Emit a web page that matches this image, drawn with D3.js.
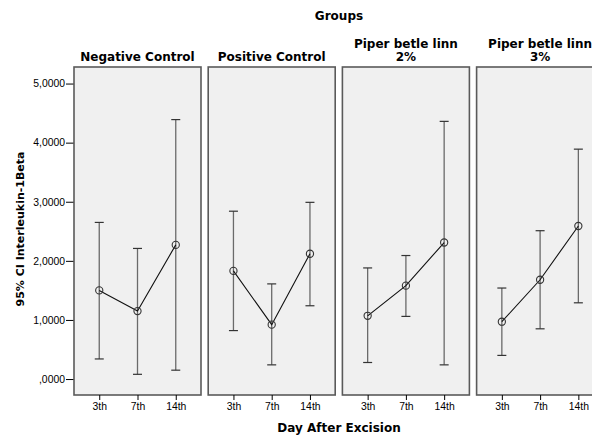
<!DOCTYPE html>
<html>
<head>
<meta charset="utf-8">
<script src="https://cdn.jsdelivr.net/npm/d3@7"></script>
<style>
body { margin:0; background:#fff; }
svg { display:block; font-family:"DejaVu Sans", sans-serif; }
.title { font-weight:bold; font-size:12px; fill:#000; }
.tick text { font-family:"Liberation Sans", Arial, sans-serif; font-size:10.4px; fill:#000; }
</style>
</head>
<body>
<svg></svg>
<script>
// groups (panel titles, split on lines)
var groups = [["Negative Control"], ["Positive Control"], ["Piper betle linn","2%"], ["Piper betle linn","3%"]];
var days = ["3th","7th","14th"];
// mean values per group, per day
var means = [
  [1.50, 1.15, 2.27],
  [1.83, 0.92, 2.12],
  [1.07, 1.58, 2.31],
  [0.97, 1.68, 2.59]
];
// 95% CI lower bounds
var lowers = [
  [0.34, 0.08, 0.15],
  [0.82, 0.24, 1.24],
  [0.28, 1.06, 0.24],
  [0.40, 0.85, 1.29]
];
// 95% CI upper bounds
var uppers = [
  [2.65, 2.21, 4.39],
  [2.84, 1.61, 2.99],
  [1.88, 2.09, 4.36],
  [1.54, 2.51, 3.89]
];
var yTicks = [0, 1, 2, 3, 4, 5];

var initGraph = function()
{
    var screen = {width:592, height:436};
    var margins = {left:74, top:67, bottom:41};
    var panel = {width:127, height:screen.height - margins.top - margins.bottom, gap:7.2};

    var svg = d3.select("svg")
        .attr("width", screen.width)
        .attr("height", screen.height);

    var yScale = d3.scaleLinear()
        .domain([-0.27, 5.28])
        .range([panel.height, 0]);

    var xScale = d3.scalePoint()
        .domain(days)
        .range([0, panel.width])
        .padding(0.66);

    var fmt = function(d) { return d === 0 ? ",0000" : d3.format(".4f")(d).replace(".", ","); };

    // y axis
    var yAxis = d3.axisLeft(yScale).tickValues(yTicks).tickFormat(fmt).tickSize(8).tickPadding(1);
    var ya = svg.append("g")
        .attr("transform", "translate(" + margins.left + "," + margins.top + ")")
        .call(yAxis);
    ya.select(".domain").remove();
    ya.selectAll(".tick line").attr("stroke", "#000");

    groups.forEach(function(title, gi)
    {
        var x0 = margins.left + gi * (panel.width + panel.gap);
        var g = svg.append("g")
            .attr("transform", "translate(" + x0 + "," + margins.top + ")");

        g.append("rect")
            .attr("x", 0).attr("y", 0)
            .attr("width", panel.width).attr("height", panel.height)
            .attr("fill", "#f0f0f0")
            .attr("stroke", "#5a5a5a")
            .attr("stroke-width", 1.6);

        // panel title
        var t = g.append("text")
            .classed("title", true)
            .attr("text-anchor", "middle")
            .attr("x", panel.width / 2);
        title.forEach(function(line, li)
        {
            t.append("tspan")
                .attr("x", panel.width / 2)
                .attr("y", title.length == 1 ? -6 : -19 + li * 13)
                .text(line);
        });

        // x axis
        var xa = g.append("g")
            .attr("transform", "translate(0," + panel.height + ")")
            .call(d3.axisBottom(xScale).tickSize(5).tickPadding(3));
        xa.select(".domain").remove();
        xa.selectAll(".tick line").attr("stroke", "#000");

        var rows = days.map(function(d, i)
        {
            return {day:d, mean:means[gi][i], lo:lowers[gi][i], hi:uppers[gi][i]};
        });

        // error bars
        var eb = g.selectAll(".eb").data(rows).enter().append("g").classed("eb", true);
        eb.append("line")
            .attr("x1", function(d) { return xScale(d.day); })
            .attr("x2", function(d) { return xScale(d.day); })
            .attr("y1", function(d) { return yScale(d.lo); })
            .attr("y2", function(d) { return yScale(d.hi); })
            .attr("stroke", "#6a6a6a").attr("stroke-width", 1.3);
        ["lo","hi"].forEach(function(k)
        {
            eb.append("line")
                .attr("x1", function(d) { return xScale(d.day) - 4.5; })
                .attr("x2", function(d) { return xScale(d.day) + 4.5; })
                .attr("y1", function(d) { return yScale(d[k]); })
                .attr("y2", function(d) { return yScale(d[k]); })
                .attr("stroke", "#333").attr("stroke-width", 1.2);
        });

        // mean line
        g.append("path")
            .datum(rows)
            .attr("fill", "none")
            .attr("stroke", "#111")
            .attr("stroke-width", 1.1)
            .attr("d", d3.line()
                .x(function(d) { return xScale(d.day); })
                .y(function(d) { return yScale(d.mean); }));

        g.selectAll(".pt").data(rows).enter().append("circle")
            .attr("cx", function(d) { return xScale(d.day); })
            .attr("cy", function(d) { return yScale(d.mean); })
            .attr("r", 3.6)
            .attr("fill", "none")
            .attr("stroke", "#333")
            .attr("stroke-width", 1.1);
    });

    // labels
    svg.append("text").classed("title", true)
        .attr("text-anchor", "middle")
        .attr("x", 339).attr("y", 20)
        .text("Groups");

    svg.append("text").classed("title", true)
        .attr("text-anchor", "middle")
        .attr("x", 339).attr("y", 432)
        .text("Day After Excision");

    svg.append("text").classed("title", true)
        .style("font-size", "11px")
        .attr("text-anchor", "middle")
        .attr("transform", "translate(24,229) rotate(270)")
        .text("95% CI Interleukin-1Beta");
}

initGraph();
</script>
</body>
</html>
